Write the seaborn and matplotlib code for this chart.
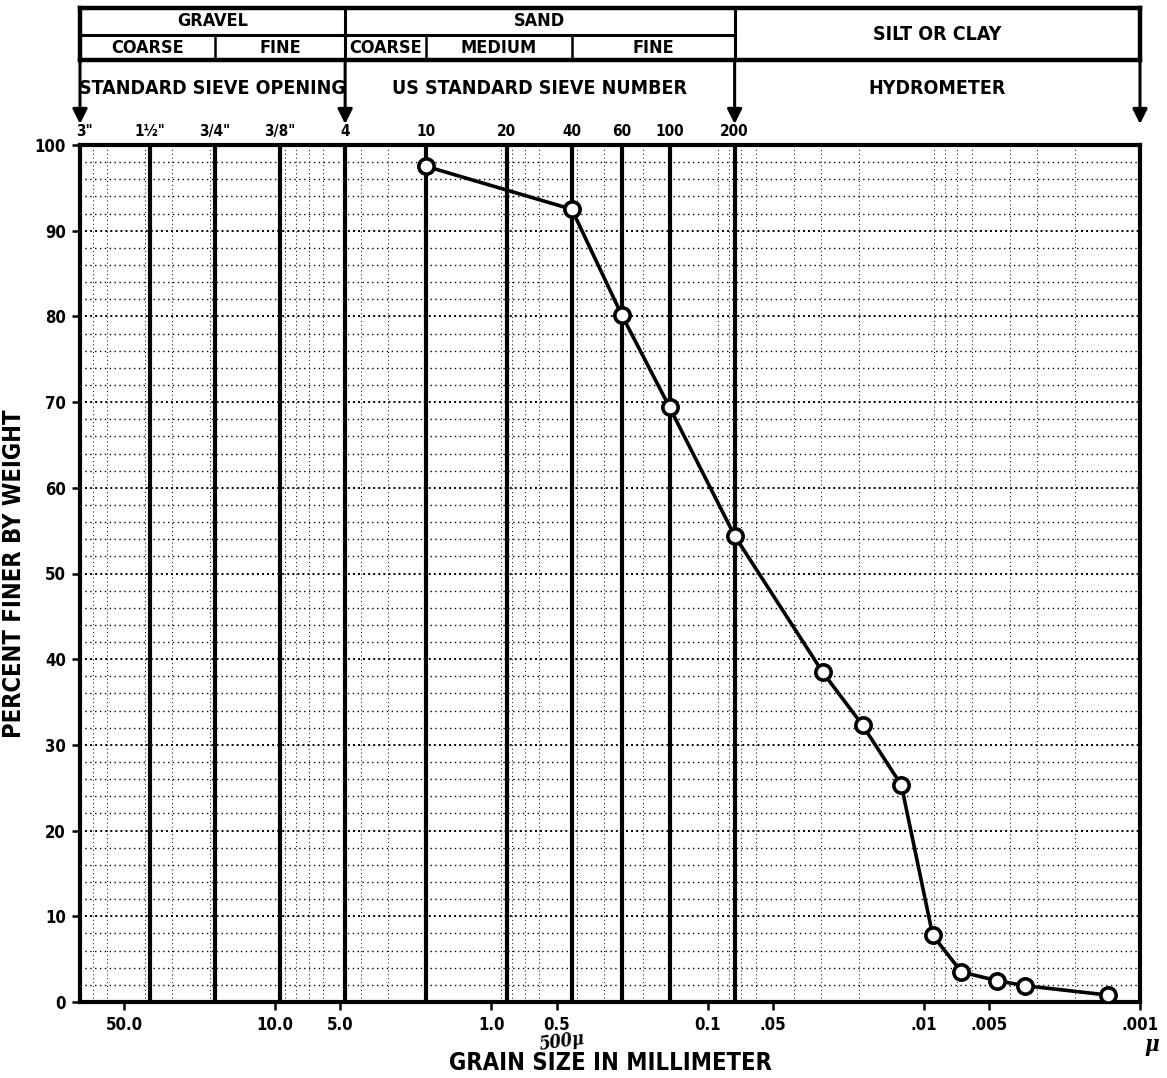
import matplotlib
matplotlib.use("Agg")
import matplotlib.pyplot as plt
import matplotlib.transforms as mtransforms
import numpy as np
import pandas as pd
import seaborn as sns

# grain size distribution (mm vs percent finer)
grain_mm = [2.0, 0.425, 0.25, 0.15, 0.075, 0.0294, 0.0192, 0.0127,
            0.0091, 0.0067, 0.0046, 0.0034, 0.0014]
pct_finer = [97.5, 92.5, 80.2, 69.4, 54.4, 38.5, 32.3, 25.3,
             7.8, 3.5, 2.5, 1.9, 0.8]

# sieves along the top
sieve_mm = [76.2, 38.1, 19.05, 9.525, 4.75, 2.0, 0.85, 0.425, 0.25, 0.15, 0.075]
sieve_labels = ['3"', '1½"', '3/4"', '3/8"', '4', '10', '20', '40', '60', '100', '200']

# bottom mm scale
mm_ticks = [50, 10, 5, 1, 0.5, 0.1, 0.05, 0.01, 0.005, 0.001]
mm_tick_labels = ['50.0', '10.0', '5.0', '1.0', '0.5', '0.1', '.05', '.01', '.005', '.001']
pct_ticks = list(range(0, 101, 10))

# header table (label, from mm, to mm)
soil_cells = [('GRAVEL', 80, 4.75), ('SAND', 4.75, 0.075)]
sub_cells = [('COARSE', 80, 19.05), ('FINE', 19.05, 4.75), ('COARSE', 4.75, 2.0),
             ('MEDIUM', 2.0, 0.425), ('FINE', 0.425, 0.075)]
silt_cell = ('SILT OR CLAY', 0.075, 0.001)
method_cells = [('STANDARD SIEVE OPENING', 80, 4.75),
                ('US STANDARD SIEVE NUMBER', 4.75, 0.075),
                ('HYDROMETER', 0.075, 0.001)]
arrow_mm = [80, 4.75, 0.075, 0.001]

x_left, x_right = 80, 0.001

sns.set_style("white")
plt.rcParams['font.family'] = ['DejaVu Sans Condensed', 'Liberation Sans Narrow', 'DejaVu Sans']
plt.rcParams['font.stretch'] = 'condensed'
plt.rcParams['font.weight'] = 'bold'
for key in ['text.color', 'axes.labelcolor', 'xtick.color', 'ytick.color']:
    plt.rcParams[key] = 'black'

W, H = 1167, 1078
fig = plt.figure(figsize=(W / 100, H / 100), dpi=100)
ax = fig.add_axes([80 / W, (H - 1002) / H, 1060 / W, 857 / H])
hx = fig.add_axes([80 / W, (H - 145) / H, 1060 / W, 145 / H])

df = pd.DataFrame({'grain': grain_mm, 'finer': pct_finer})

ax.set_xscale('log')
ax.set_xlim(x_left, x_right)
ax.set_ylim(0, 100)

# grid: every 2 % dotted, log minors vertical
minors = [k * 10.0 ** n for n in range(-3, 2) for k in range(1, 10)]
minors = [m for m in minors if x_right <= m <= x_left]
ax.set_xticks(minors, minor=True)
ax.set_yticks(np.arange(0, 101, 2), minor=True)
ax.grid(which='minor', axis='x', color='k', ls=(0, (1, 3)), lw=0.7)
ax.grid(which='minor', axis='y', color='k', ls=(0, (1, 2.5)), lw=1.0)
ax.grid(which='major', axis='y', color='k', ls=(0, (1, 1.6)), lw=1.4)
ax.tick_params(which='minor', length=0)

for s in sieve_mm:
    if s < x_left * 0.9:
        ax.axvline(s, color='k', lw=3, zorder=2)

sns.lineplot(data=df, x='grain', y='finer', sort=False, ax=ax, color='k', lw=2.6,
             marker='o', markersize=11, markerfacecolor='white',
             markeredgecolor='k', markeredgewidth=2.6, zorder=5)

ax.set_xticks(mm_ticks)
ax.set_xticklabels(mm_tick_labels)
ax.set_yticks(pct_ticks)
ax.set_yticklabels([str(v) for v in pct_ticks])
ax.tick_params(which='major', direction='out', length=6, width=1.8,
               labelsize=12, pad=4, bottom=True, left=True)
for sp in ax.spines.values():
    sp.set_linewidth(3)
    sp.set_color('k')

ax.set_xlabel('GRAIN SIZE IN MILLIMETER', fontsize=17, fontweight='bold', labelpad=12)
ax.set_ylabel('PERCENT FINER BY WEIGHT', fontsize=17, fontweight='bold', labelpad=6)

# handwritten notes
tr = mtransforms.blended_transform_factory(ax.transData, ax.transAxes)
ax.text(0.47, -0.046, '500μ', transform=tr, fontsize=13, family='DejaVu Serif',
        style='italic', ha='center', va='center', rotation=8)
ax.text(1.004, -0.05, 'μ', transform=ax.transAxes, fontsize=16, family='DejaVu Serif',
        style='italic', ha='left', va='center')

# sieve numbers on top
top = ax.secondary_xaxis('top')
top.set_xticks(sieve_mm)
top.set_xticklabels(sieve_labels)
top.tick_params(length=0, labelsize=11, pad=4)
top.xaxis.set_minor_locator(matplotlib.ticker.NullLocator())
top.spines['top'].set_visible(False)

# header table
hx.set_xscale('log')
hx.set_xlim(x_left, x_right)
hx.set_ylim(145, 0)
hx.axis('off')
hx.patch.set_alpha(0)

def gmean(a, b):
    return np.sqrt(a * b)

kw = dict(color='k', clip_on=False, solid_capstyle='projecting')
hx.plot([x_left, x_right], [8, 8], lw=3.2, **kw)
hx.plot([x_left, x_right], [60, 60], lw=3.2, **kw)
hx.plot([x_left, 0.075], [35, 35], lw=2.2, **kw)
for xv in [x_left, x_right]:
    hx.plot([xv, xv], [8, 60], lw=3.2, **kw)
for xv in [4.75, 0.075]:
    hx.plot([xv, xv], [8, 60], lw=2.2, **kw)
for xv in [19.05, 2.0, 0.425]:
    hx.plot([xv, xv], [35, 60], lw=1.8, **kw)

for lab, a, b in soil_cells:
    hx.text(gmean(a, b), 21, lab, ha='center', va='center', fontsize=13, fontweight='bold')
for lab, a, b in sub_cells:
    hx.text(gmean(a, b), 48, lab, ha='center', va='center', fontsize=13, fontweight='bold')
hx.text(gmean(silt_cell[1], silt_cell[2]), 34, silt_cell[0], ha='center', va='center',
        fontsize=14, fontweight='bold')
for lab, a, b in method_cells:
    hx.text(gmean(a, b), 89, lab, ha='center', va='center', fontsize=14, fontweight='bold')

for xv in arrow_mm:
    hx.annotate('', xy=(xv, 124), xytext=(xv, 60), annotation_clip=False,
                arrowprops=dict(arrowstyle='-|>', color='k', lw=2.2, mutation_scale=22,
                                shrinkA=0, shrinkB=0))

fig.savefig('out.png', dpi=100)
